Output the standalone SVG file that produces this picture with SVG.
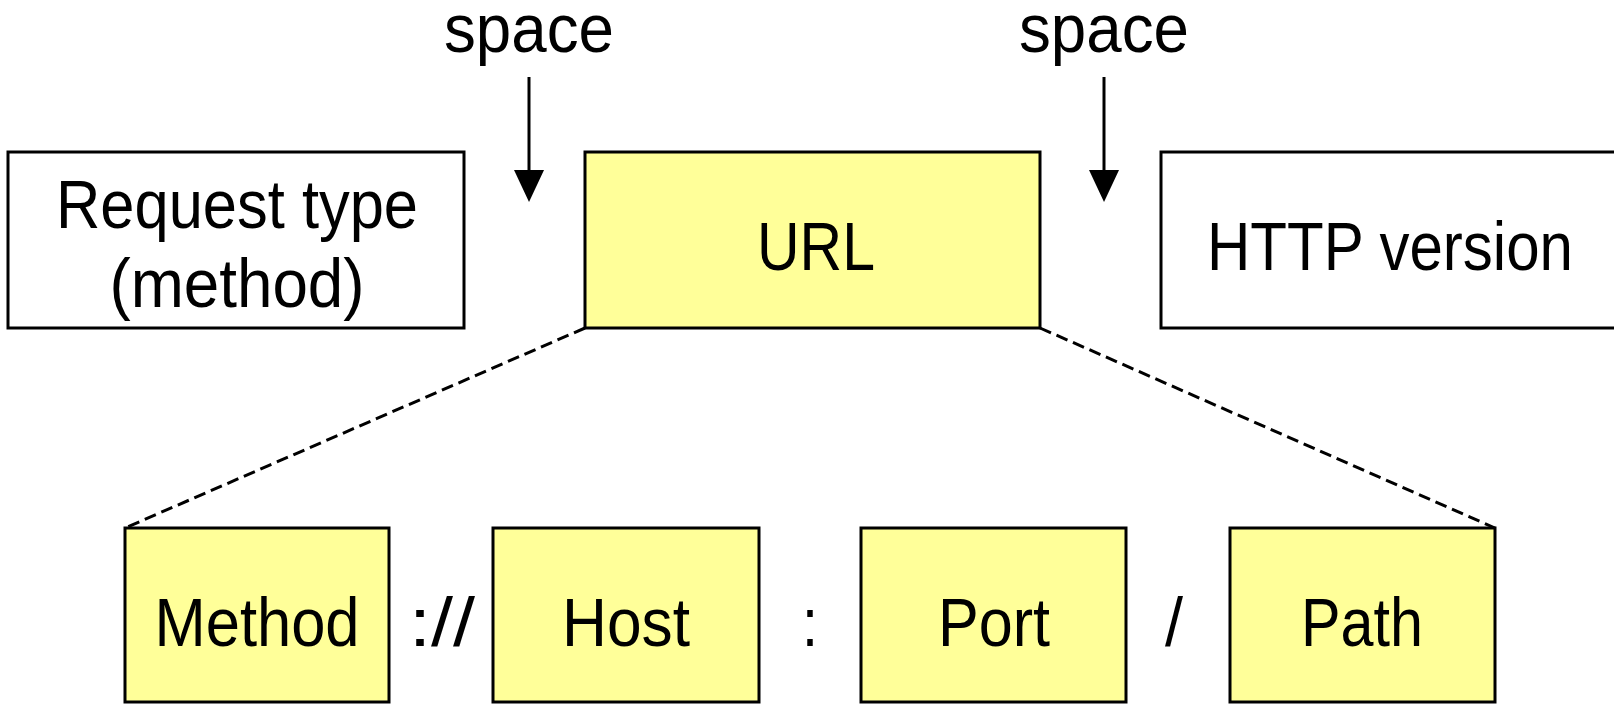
<svg xmlns="http://www.w3.org/2000/svg" width="1614" height="704" viewBox="0 0 1614 704">
  <style>
    .box { fill: #ffffff; stroke: #000000; stroke-width: 3; }
    .url { fill: #ffff99; stroke: #000000; stroke-width: 3; }
    .lbl { font-family: "Liberation Sans", Arial, sans-serif; font-size: 68px; fill: #000000; text-anchor: middle; }
    .dash { stroke: #000000; stroke-width: 3; stroke-dasharray: 12 6; fill: none; }
    .arrow { stroke: #000000; stroke-width: 3; fill: none; marker-end: url(#head); }
  </style>
  <defs>
    <marker id="head" markerUnits="userSpaceOnUse" markerWidth="34" markerHeight="30" viewBox="0 0 34 30" refX="0" refY="15" orient="auto">
      <path d="M0,0 L32,15 L0,30 z" fill="#000000"/>
    </marker>
  </defs>
  <rect width="1614" height="704" fill="#ffffff"/>

  <!-- separators between the request line fields -->
  <g id="space-left">
    <text class="lbl" x="529" y="52" textLength="170" lengthAdjust="spacingAndGlyphs">space</text>
  </g>
  <g id="space-right">
    <text class="lbl" x="1104" y="52" textLength="170" lengthAdjust="spacingAndGlyphs">space</text>
  </g>

  <!-- request line fields -->
  <g id="request-type">
    <rect class="box" x="8" y="152" width="456" height="176"/>
    <text class="lbl" x="237" y="228" textLength="362" lengthAdjust="spacingAndGlyphs">Request type</text>
    <text class="lbl" x="237" y="307" textLength="255" lengthAdjust="spacingAndGlyphs">(method)</text>
  </g>
  <g id="url">
    <rect class="url" x="585" y="152" width="455" height="176"/>
    <text class="lbl" x="816" y="270" textLength="118" lengthAdjust="spacingAndGlyphs">URL</text>
  </g>
  <g id="http-version">
    <rect class="box" x="1161" y="152" width="480" height="176"/>
    <text class="lbl" x="1390" y="270" textLength="366" lengthAdjust="spacingAndGlyphs">HTTP version</text>
  </g>

  <!-- URL parts -->
  <g id="method">
    <rect class="url" x="125" y="528" width="264" height="174"/>
    <text class="lbl" x="257" y="646" textLength="205" lengthAdjust="spacingAndGlyphs">Method</text>
  </g>
  <g id="sep-scheme">
    <text class="lbl" x="442" y="646" textLength="66" lengthAdjust="spacingAndGlyphs">://</text>
  </g>
  <g id="host">
    <rect class="url" x="493" y="528" width="266" height="174"/>
    <text class="lbl" x="626" y="646" textLength="128" lengthAdjust="spacingAndGlyphs">Host</text>
  </g>
  <g id="sep-port">
    <text class="lbl" x="810" y="646" textLength="16" lengthAdjust="spacingAndGlyphs">:</text>
  </g>
  <g id="port">
    <rect class="url" x="861" y="528" width="265" height="174"/>
    <text class="lbl" x="994" y="646" textLength="112" lengthAdjust="spacingAndGlyphs">Port</text>
  </g>
  <g id="sep-path">
    <text class="lbl" x="1174" y="646" textLength="18" lengthAdjust="spacingAndGlyphs">/</text>
  </g>
  <g id="path">
    <rect class="url" x="1230" y="528" width="265" height="174"/>
    <text class="lbl" x="1362" y="646" textLength="122" lengthAdjust="spacingAndGlyphs">Path</text>
  </g>

  <!-- connectors -->
  <g id="connectors">
    <line class="arrow" x1="529" y1="77" x2="529" y2="170"/>
    <line class="arrow" x1="1104" y1="77" x2="1104" y2="170"/>
    <line class="dash" x1="585" y1="328" x2="125" y2="528"/>
    <line class="dash" x1="1040" y1="328" x2="1495" y2="528"/>
  </g>
</svg>
